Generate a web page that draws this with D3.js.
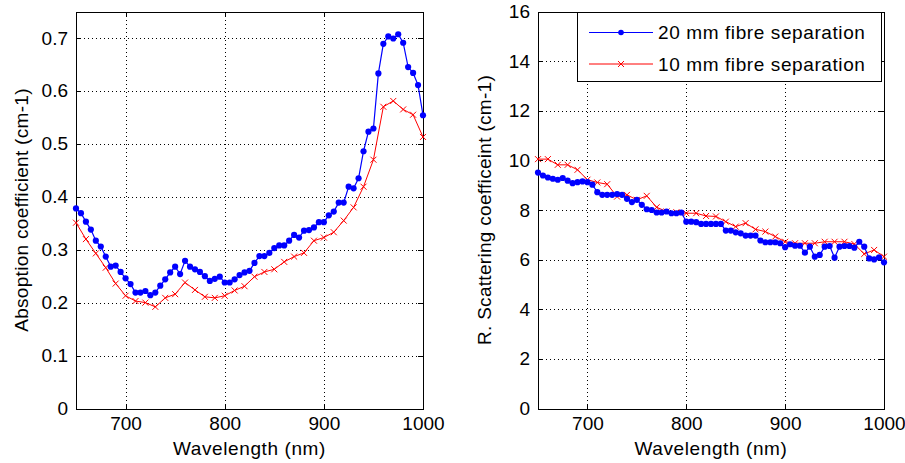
<!DOCTYPE html>
<html><head><meta charset="utf-8">
<script src="https://cdn.jsdelivr.net/npm/d3@7"></script>
<style>body{margin:0;background:#fff;} svg{display:block;} text{font-family:"Liberation Sans",Arial,Helvetica,sans-serif;fill:#000;}</style>
</head><body><svg id="c" width="905" height="463"></svg>
<script>
// ---- data ----
const wavelengths5 = [650,655,660,665,670,675,680,685,690,695,700,705,710,715,720,725,730,735,740,745,750,755,760,765,770,775,780,785,790,795,800,805,810,815,820,825,830,835,840,845,850,855,860,865,870,875,880,885,890,895,900,905,910,915,920,925,930,935,940,945,950,955,960,965,970,975,980,985,990,995,1000];
const wavelengths10 = [650,660,670,680,690,700,710,720,730,740,750,760,770,780,790,800,810,820,830,840,850,860,870,880,890,900,910,920,930,940,950,960,970,980,990,1000];
const absorption20 = [0.378,0.369,0.353,0.338,0.317,0.306,0.287,0.268,0.270,0.258,0.246,0.235,0.219,0.219,0.222,0.214,0.219,0.232,0.244,0.257,0.268,0.254,0.279,0.268,0.263,0.258,0.250,0.241,0.245,0.249,0.238,0.238,0.244,0.252,0.257,0.260,0.275,0.288,0.288,0.294,0.303,0.308,0.308,0.317,0.328,0.323,0.336,0.337,0.342,0.352,0.352,0.365,0.372,0.389,0.389,0.419,0.416,0.435,0.486,0.523,0.529,0.633,0.689,0.703,0.699,0.707,0.691,0.645,0.634,0.611,0.554];
const absorption10 = [0.351,0.320,0.293,0.266,0.236,0.213,0.203,0.200,0.192,0.209,0.216,0.238,0.224,0.211,0.209,0.213,0.223,0.231,0.249,0.258,0.263,0.277,0.287,0.294,0.317,0.323,0.333,0.355,0.380,0.419,0.470,0.570,0.581,0.565,0.555,0.513];
const scattering20 = [9.51,9.39,9.31,9.26,9.22,9.29,9.18,9.08,9.12,9.15,9.12,9.02,8.72,8.61,8.61,8.61,8.64,8.61,8.45,8.32,8.41,8.21,8.03,8.00,7.90,7.90,7.94,7.87,7.87,7.90,7.53,7.53,7.51,7.44,7.44,7.44,7.44,7.44,7.17,7.17,7.10,7.06,6.97,6.97,6.97,6.77,6.70,6.70,6.70,6.66,6.50,6.62,6.56,6.56,6.28,6.52,6.12,6.19,6.52,6.55,6.08,6.52,6.55,6.55,6.48,6.72,6.52,6.05,6.01,6.09,5.89];
const scattering10 = [10.05,10.05,9.82,9.82,9.62,9.22,9.11,9.04,8.54,8.61,8.41,8.57,8.11,7.94,7.91,7.87,7.87,7.76,7.74,7.53,7.33,7.47,7.22,7.13,6.93,6.72,6.66,6.66,6.66,6.72,6.72,6.72,6.63,6.23,6.39,6.12];
const xTicks = [700,800,900,1000];
const absTicks = [0,0.1,0.2,0.3,0.4,0.5,0.6,0.7];
const scatTicks = [0,2,4,6,8,10,12,14,16];
const seriesNames = ["20 mm fibre separation","10 mm fibre separation"];
const seriesColors = ["#0000ff","#ff0000"];
const xLabel = "Wavelength (nm)";
const yLabels = ["Absoption coefficient (cm-1)","R. Scattering coefficeint (cm-1)"];

const svg = d3.select("#c");
const FS = 19;
const crossPath = "M-3,-3L3,3M-3,3L3,-3";

function panel(cfg){
  const x = d3.scaleLinear().domain([650,1000]).range([cfg.x0,cfg.x1]);
  const y = d3.scaleLinear().domain([0,cfg.ymax]).range([cfg.y0,cfg.y1]);
  const g = svg.append("g");
  // grid
  const gg = g.append("g").attr("stroke","#000").attr("stroke-width",1).attr("stroke-dasharray","1,3").attr("shape-rendering","crispEdges");
  xTicks.filter(t=>t<1000).forEach(t=>{
    gg.append("line").attr("x1",Math.round(x(t))+0.5).attr("x2",Math.round(x(t))+0.5).attr("y1",cfg.y0).attr("y2",cfg.y1);
  });
  cfg.yTicks.filter(t=>t>0 && t<cfg.ymax).forEach(t=>{
    gg.append("line").attr("y1",Math.round(y(t))+0.5).attr("y2",Math.round(y(t))+0.5).attr("x1",cfg.x0).attr("x2",cfg.x1);
  });
  // axes
  const styleAxis = sel => {
    sel.selectAll("path,line").attr("stroke","#000").attr("shape-rendering","crispEdges");
    sel.selectAll("text").attr("font-size",FS).attr("font-family","Liberation Sans, Arial, sans-serif").attr("fill","#000");
  };
  g.append("g").attr("transform",`translate(0,${cfg.y0})`)
    .call(d3.axisBottom(x).tickValues(xTicks).tickSizeInner(-5).tickSizeOuter(0).tickPadding(8).tickFormat(d3.format("d")))
    .call(styleAxis);
  g.append("g").attr("transform",`translate(0,${cfg.y1})`)
    .call(d3.axisTop(x).tickValues(xTicks).tickSizeInner(-5).tickSizeOuter(0).tickFormat(""))
    .call(styleAxis);
  g.append("g").attr("transform",`translate(${cfg.x0},0)`)
    .call(d3.axisLeft(y).tickValues(cfg.yTicks).tickSizeInner(-5).tickSizeOuter(0).tickPadding(8).tickFormat(d=>String(d)))
    .call(styleAxis);
  g.append("g").attr("transform",`translate(${cfg.x1},0)`)
    .call(d3.axisRight(y).tickValues(cfg.yTicks).tickSizeInner(-5).tickSizeOuter(0).tickFormat(""))
    .call(styleAxis);
  // series
  const line = d3.line().x(d=>x(d[0])).y(d=>y(d[1]));
  const s1 = wavelengths5.map((w,i)=>[w,cfg.s20[i]]);
  const s2 = wavelengths10.map((w,i)=>[w,cfg.s10[i]]);
  g.append("path").datum(s2).attr("d",line).attr("fill","none").attr("stroke",seriesColors[1]).attr("stroke-width",1);
  g.selectAll(".xm").data(s2).enter().append("path").attr("d",crossPath)
    .attr("transform",d=>`translate(${x(d[0])},${y(d[1])})`).attr("stroke",seriesColors[1]).attr("stroke-width",1).attr("fill","none");
  g.append("path").datum(s1).attr("d",line).attr("fill","none").attr("stroke",seriesColors[0]).attr("stroke-width",1.2);
  g.selectAll(".dm").data(s1).enter().append("circle").attr("r",3.1)
    .attr("cx",d=>x(d[0])).attr("cy",d=>y(d[1])).attr("fill",seriesColors[0]);
  // labels
  g.append("text").attr("x",(cfg.x0+cfg.x1)/2).attr("y",455).attr("text-anchor","middle").attr("font-size",FS).attr("letter-spacing","0.6").text(xLabel);
  g.append("text").attr("transform",`translate(${cfg.labX},${(cfg.y0+cfg.y1)/2}) rotate(-90)`).attr("text-anchor","middle").attr("font-size",FS).attr("letter-spacing","0.3").text(cfg.ylab);
  return {x,y,g};
}

panel({x0:76,x1:423,y0:408.5,y1:11.5,ymax:0.75,yTicks:absTicks,s20:absorption20,s10:absorption10,ylab:yLabels[0],labX:28});
panel({x0:538,x1:884,y0:408.5,y1:11.5,ymax:16,yTicks:scatTicks,s20:scattering20,s10:scattering10,ylab:yLabels[1],labX:491});

// legend
const lg = svg.append("g");
lg.append("rect").attr("x",577.5).attr("y",12.5).attr("width",304).attr("height",69).attr("fill","#fff").attr("stroke","#000").attr("shape-rendering","crispEdges");
const rowsY = [32.5,64];
seriesNames.forEach((name,i)=>{
  lg.append("line").attr("x1",589).attr("x2",653).attr("y1",rowsY[i]).attr("y2",rowsY[i]).attr("stroke",seriesColors[i]).attr("stroke-width",1);
  if(i===0){
    lg.append("circle").attr("cx",621).attr("cy",rowsY[i]).attr("r",2.8).attr("fill",seriesColors[i]);
  } else {
    lg.append("path").attr("d",crossPath).attr("transform",`translate(621,${rowsY[i]})`).attr("stroke",seriesColors[i]).attr("fill","none");
  }
  lg.append("text").attr("x",658).attr("y",rowsY[i]).attr("dy","0.35em").attr("font-size",FS).attr("letter-spacing","0.6").text(name);
});
</script></body></html>
